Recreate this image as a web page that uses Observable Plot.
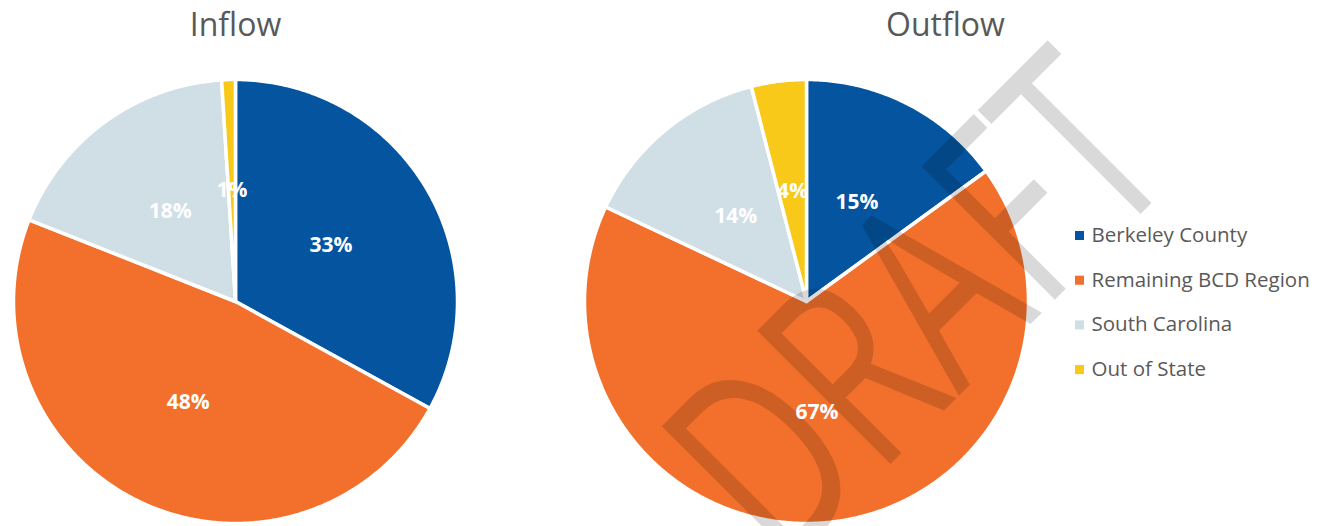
<!DOCTYPE html>
<html>
<head>
<meta charset="utf-8">
<script src="https://cdn.jsdelivr.net/npm/d3@7"></script>
<script src="https://cdn.jsdelivr.net/npm/@observablehq/plot@0.6"></script>
<style>
  html, body { margin: 0; padding: 0; background: #ffffff; }
  #chart { width: 1321px; height: 526px; overflow: hidden; }
</style>
</head>
<body>
<div id="chart"></div>
<script>
// Migration shares (percent), slices run clockwise from 12 o'clock
const categories = ["Berkeley County", "Remaining BCD Region", "South Carolina", "Out of State"];
const categoryColors = ["#04549F", "#F2702B", "#D0DEE6", "#F8C918"];
const pieTitles = ["Inflow", "Outflow"];
const inflowShares = [33, 48, 18, 1];
const outflowShares = [15, 67, 14, 4];
const watermarkText = "DRAFT";

// Layout (pixels)
const W = 1321, H = 526;
const radius = 222;
const pieCenters = [[235, 301], [806, 301]];
const titleX = [235, 945];
const titleBaseline = 35;
const labelRadius = 0.5 * radius;
const legendX = 1079, legendTop = 235, legendStep = 44.7;
const font = "'Open Sans', 'Noto Sans', sans-serif";

const pies = [inflowShares, outflowShares].map((shares, p) => ({
  title: pieTitles[p],
  center: pieCenters[p],
  shares
}));

// Build slice outlines and label anchors from the shares
const slicePoints = [];
const labels = [];
pies.forEach((pie, p) => {
  const [cx, cy] = pie.center;
  const total = d3.sum(pie.shares);
  let cum = 0;
  pie.shares.forEach((v, i) => {
    const a0 = (cum / total) * 2 * Math.PI;
    const a1 = ((cum + v) / total) * 2 * Math.PI;
    cum += v;
    const key = `${p}-${i}`;
    const cat = categories[i];
    slicePoints.push({key, cat, px: cx, py: cy});
    const steps = Math.max(2, Math.ceil((a1 - a0) / (Math.PI / 360)));
    for (let s = 0; s <= steps; ++s) {
      const a = a0 + (a1 - a0) * s / steps;
      slicePoints.push({key, cat, px: cx + radius * Math.sin(a), py: cy - radius * Math.cos(a)});
    }
    slicePoints.push({key, cat, px: cx, py: cy});
    const am = (a0 + a1) / 2;
    labels.push({text: `${v}%`, px: cx + labelRadius * Math.sin(am), py: cy - labelRadius * Math.cos(am)});
  });
});

const titles = pies.map((pie, p) => ({text: pie.title, px: titleX[p], py: titleBaseline}));
const legendRows = categories.map((cat, i) => ({cat, px: legendX, py: legendTop + i * legendStep}));

const chart = Plot.plot({
  width: W,
  height: H,
  margin: 0,
  x: {domain: [0, W], range: [0, W], axis: null},
  y: {domain: [0, H], range: [0, H], axis: null},
  color: {domain: categories, range: categoryColors},
  style: {background: "#ffffff", fontFamily: font, overflow: "visible"},
  marks: [
    Plot.line(slicePoints, {
      x: "px", y: "py", z: "key", fill: "cat",
      stroke: "#ffffff", strokeWidth: 3.5, strokeLinejoin: "round"
    }),
    Plot.text([watermarkText], {
      x: () => 922, y: () => 312, text: d => d,
      rotate: -45, fontSize: 186, fontWeight: 500, fontFamily: font,
      fill: "#000000", fillOpacity: 0.15
    }),
    Plot.text(labels, {
      x: "px", y: "py", text: "text",
      fill: "#ffffff", fontSize: 21, fontWeight: "bold", fontFamily: font
    }),
    Plot.text(titles, {
      x: "px", y: "py", text: "text", lineAnchor: "bottom",
      fill: "#595959", fontSize: 32, fontFamily: font
    }),
    Plot.dot(legendRows, {
      x: "px", y: "py", fill: "cat", symbol: "square", r: 5.1, stroke: null
    }),
    Plot.text(legendRows, {
      x: "px", y: "py", text: "cat", dx: 12, textAnchor: "start",
      fill: "#595959", fontSize: 20.5, fontFamily: font
    })
  ]
});

// Stretch the watermark lettering vertically (tall, narrow letters)
d3.select(chart).selectAll("text")
  .filter(function () { return this.textContent === watermarkText; })
  .attr("transform", function () { return (this.getAttribute("transform") || "") + " scale(1,1.42)"; });

document.getElementById("chart").appendChild(chart);
</script>
</body>
</html>
